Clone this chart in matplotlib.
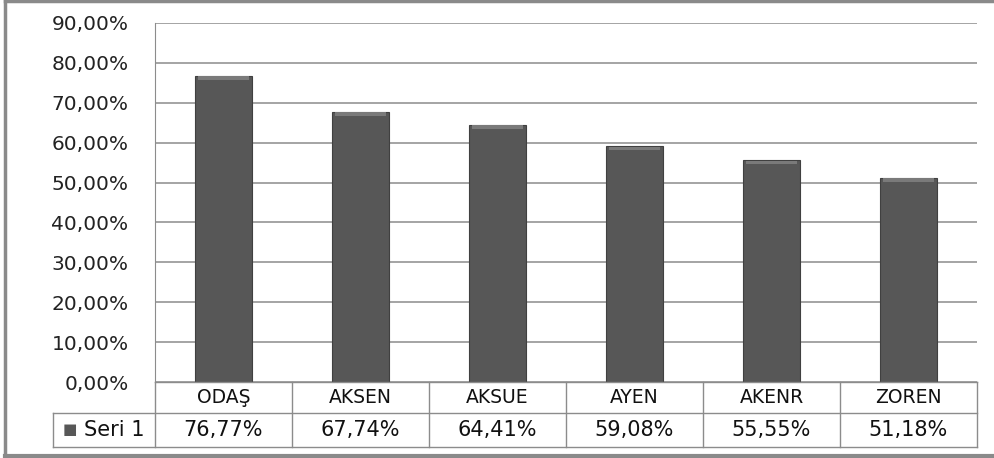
import matplotlib.pyplot as plt
from matplotlib.lines import Line2D

categories = ["ODAŞ", "AKSEN", "AKSUE", "AYEN", "AKENR", "ZOREN"]
values = [76.77, 67.74, 64.41, 59.08, 55.55, 51.18]
series_name = "Seri 1"
yticks = [0, 10, 20, 30, 40, 50, 60, 70, 80, 90]

W, H = 995, 458
fig = plt.figure(figsize=(W / 100, H / 100), dpi=100)
fig.patch.set_facecolor("white")

# plot area in pixel terms
left, right, top, bottom = 155, 977, 23, 382
ax = fig.add_axes([left / W, 1 - bottom / H, (right - left) / W, (bottom - top) / H])

x = range(len(categories))
ax.bar(x, values, width=0.41, color="#575757", edgecolor="#404040", linewidth=0.8, zorder=3)
# light bevel on top of each bar
ax.bar(x, [0.9] * len(values), bottom=[v - 1.0 for v in values], width=0.37,
       color="#7a7a7a", linewidth=0, zorder=4)

ax.set_xlim(-0.5, len(categories) - 0.5)
ax.set_ylim(0, 90)
ax.set_yticks(yticks)
ax.set_yticklabels([f"{t:.2f}%".replace(".", ",") for t in yticks], fontsize=14.5, color="#222222")
ax.yaxis.grid(True, color="#8c8c8c", linewidth=1.1, zorder=0)
ax.set_xticks([])
ax.tick_params(axis="y", length=0, pad=19)
for s in ["top", "right", "bottom"]:
    ax.spines[s].set_visible(False)
ax.spines["left"].set_color("#8c8c8c")

# data table under the chart
n = len(categories)
row1_bottom, row2_bottom = 413, 447
legend_left = 53
lc = "#8c8c8c"
fx = lambda px: px / W
fy = lambda py: 1 - py / H
col_w = (right - left) / n

# horizontal lines
for y, x0 in [(bottom, left), (row1_bottom, legend_left), (row2_bottom, legend_left)]:
    fig.add_artist(Line2D([fx(x0), fx(right)], [fy(y), fy(y)], color=lc, lw=1))
# vertical lines
for i in range(n + 1):
    xp = left + i * col_w
    fig.add_artist(Line2D([fx(xp), fx(xp)], [fy(bottom), fy(row2_bottom)], color=lc, lw=1))
fig.add_artist(Line2D([fx(legend_left), fx(legend_left)], [fy(row1_bottom), fy(row2_bottom)], color=lc, lw=1))

for i, (c, v) in enumerate(zip(categories, values)):
    xc = left + (i + 0.5) * col_w
    fig.text(fx(xc), fy((bottom + row1_bottom) / 2), c, ha="center", va="center", fontsize=13.5, color="#111111")
    fig.text(fx(xc), fy((row1_bottom + row2_bottom) / 2), f"{v:.2f}%".replace(".", ","),
             ha="center", va="center", fontsize=15, color="#111111")

# legend key in table
fig.text(fx(70), fy((row1_bottom + row2_bottom) / 2 - 1), "■", ha="center", va="center",
         fontsize=11, color="#575757")
fig.text(fx(84), fy((row1_bottom + row2_bottom) / 2), series_name, ha="left", va="center",
         fontsize=15, color="#111111")

# chart outer border
bc = "#8a8a8a"
fig.add_artist(Line2D([fx(5), fx(5)], [fy(1), fy(456)], color=bc, lw=2.5))
fig.add_artist(Line2D([fx(5), fx(W)], [fy(1), fy(1)], color=bc, lw=2.5))
fig.add_artist(Line2D([fx(5), fx(W)], [fy(456), fy(456)], color=bc, lw=3))

fig.savefig("out.png", dpi=100)
